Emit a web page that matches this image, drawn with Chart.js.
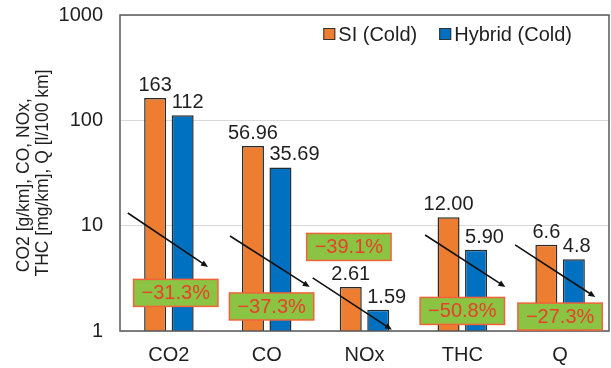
<!DOCTYPE html>
<html><head><meta charset="utf-8">
<script src="https://cdn.jsdelivr.net/npm/chart.js@4.4.1/dist/chart.umd.min.js"></script>
<style>html,body{margin:0;padding:0;background:#fff}</style>
</head><body>
<canvas id="c" width="611" height="368"></canvas>
<script>
// ---- data ----
const categories = ['CO2', 'CO', 'NOx', 'THC', 'Q'];
const seriesNames = ['SI (Cold)', 'Hybrid (Cold)'];
const siValues = [163, 56.96, 2.61, 12.00, 6.6];
const hybridValues = [112, 35.69, 1.59, 5.90, 4.8];
const siLabels = ['163', '56.96', '2.61', '12.00', '6.6'];
const hybridLabels = ['112', '35.69', '1.59', '5.90', '4.8'];
const changeLabels = ['\u221231.3%', '\u221237.3%', '\u221239.1%', '\u221250.8%', '\u221227.3%'];
const yTicks = [1, 10, 100, 1000];
const yTitle = ['CO2 [g/km], CO, NOx,     ', 'THC [mg/km], Q [l/100 km]'];

// ---- annotation placement (category offset, axis value) ----
const changeBoxPos = [
  {dx: 0.07, v: 2.30}, {dx: 0.05, v: 1.71}, {dx: -0.16, v: 6.28}, {dx: 0.0, v: 1.55}, {dx: 0.0, v: 1.37}
];
const arrowPos = [
  {x0: -0.42, v0: 13.2, x1: 0.40, v1: 4.05},
  {x0: -0.375, v0: 7.98, x1: 0.44, v1: 2.62},
  {x0: -0.53, v0: 3.19, x1: 0.28, v1: 1.03},
  {x0: -0.38, v0: 8.16, x1: 0.44, v1: 2.62},
  {x0: -0.46, v0: 6.56, x1: 0.36, v1: 2.10}
];

const FONT = '"Liberation Sans", Arial, sans-serif';
const TXT = '#1f1f1f';
const colors = ['#ED7D31', '#0070C0'];

Chart.defaults.font.family = FONT;
Chart.defaults.color = TXT;

const annot = {
  id: 'annot',
  afterDatasetsDraw(chart) {
    const {ctx, chartArea: a, scales: {x, y}} = chart;
    ctx.save();
    // frame
    ctx.strokeStyle = '#595959';
    ctx.lineWidth = 1.5;
    ctx.strokeRect(a.left, a.top, a.right - a.left, a.bottom - a.top);

    // value labels
    ctx.font = '20px ' + FONT;
    ctx.fillStyle = TXT;
    ctx.textBaseline = 'alphabetic';
    chart.getDatasetMeta(0).data.forEach((bar, i) => {
      ctx.textAlign = 'center';
      ctx.fillText(siLabels[i], bar.x, bar.y - 7);
    });
    chart.getDatasetMeta(1).data.forEach((bar, i) => {
      ctx.textAlign = 'left';
      ctx.fillText(hybridLabels[i], bar.x - bar.width / 2, bar.y - 7);
    });

    const cw = x.getPixelForValue(1) - x.getPixelForValue(0);
    // arrows
    ctx.strokeStyle = '#111';
    ctx.fillStyle = '#111';
    ctx.lineWidth = 1.6;
    arrowPos.forEach((p, i) => {
      const cx = x.getPixelForValue(i);
      const x0 = cx + p.x0 * cw, y0 = y.getPixelForValue(p.v0);
      const x1 = cx + p.x1 * cw, y1 = y.getPixelForValue(p.v1);
      const ang = Math.atan2(y1 - y0, x1 - x0);
      const hl = 7, hw = 3;
      ctx.beginPath();
      ctx.moveTo(x0, y0);
      ctx.lineTo(x1 - Math.cos(ang) * hl * 0.6, y1 - Math.sin(ang) * hl * 0.6);
      ctx.stroke();
      ctx.beginPath();
      ctx.moveTo(x1, y1);
      ctx.lineTo(x1 - Math.cos(ang) * hl - Math.sin(ang) * hw, y1 - Math.sin(ang) * hl + Math.cos(ang) * hw);
      ctx.lineTo(x1 - Math.cos(ang) * hl + Math.sin(ang) * hw, y1 - Math.sin(ang) * hl - Math.cos(ang) * hw);
      ctx.closePath();
      ctx.fill();
    });

    // change boxes
    ctx.font = '20px ' + FONT;
    ctx.textAlign = 'center';
    ctx.textBaseline = 'middle';
    changeBoxPos.forEach((p, i) => {
      const cx = x.getPixelForValue(i) + p.dx * cw;
      const cy = y.getPixelForValue(p.v);
      const w = ctx.measureText(changeLabels[i]).width + 16;
      const h = 27;
      ctx.fillStyle = '#8BC442';
      ctx.fillRect(cx - w / 2, cy - h / 2, w, h);
      ctx.strokeStyle = '#F2633A';
      ctx.lineWidth = 1.5;
      ctx.strokeRect(cx - w / 2, cy - h / 2, w, h);
      ctx.fillStyle = '#E8402C';
      ctx.fillText(changeLabels[i], cx, cy + 1);
    });

    // legend (inside plot, top right)
    ctx.font = '20px ' + FONT;
    ctx.textAlign = 'left';
    ctx.textBaseline = 'middle';
    const ly = a.top + 19;
    let rx = a.right - 37;
    for (let k = seriesNames.length - 1; k >= 0; k--) {
      const tw = ctx.measureText(seriesNames[k]).width;
      const tx = rx - tw;
      const bx = tx - 3 - 12;
      ctx.fillStyle = colors[k];
      ctx.fillRect(bx, ly - 6, 12, 12);
      ctx.strokeStyle = '#333';
      ctx.lineWidth = 1;
      ctx.strokeRect(bx + 0.5, ly - 5.5, 11, 11);
      ctx.fillStyle = TXT;
      ctx.fillText(seriesNames[k], tx, ly + 1);
      rx = bx - 22;
    }
    ctx.restore();
  }
};

new Chart(document.getElementById('c'), {
  type: 'bar',
  data: {
    labels: categories,
    datasets: [
      {label: seriesNames[0], data: siValues, backgroundColor: colors[0], borderColor: '#2a2a2a', borderWidth: 1.5,
       categoryPercentage: 0.5624, barPercentage: 0.8},
      {label: seriesNames[1], data: hybridValues, backgroundColor: colors[1], borderColor: '#2a2a2a', borderWidth: 1.5,
       categoryPercentage: 0.5624, barPercentage: 0.8}
    ]
  },
  options: {
    responsive: false,
    animation: false,
    devicePixelRatio: 1,
    layout: {padding: {top: 15, right: 2, bottom: 1, left: 0}},
    plugins: {legend: {display: false}, tooltip: {enabled: false}},
    scales: {
      x: {
        type: 'category',
        offset: true,
        grid: {display: false, drawTicks: false},
        border: {display: false},
        ticks: {font: {size: 20}, color: TXT, padding: 12, maxRotation: 0},
        afterFit: (s) => { s.height = 36; s.paddingLeft = 0; s.paddingRight = 0; s.paddingTop = 0; s.paddingBottom = 0; }
      },
      y: {
        type: 'logarithmic',
        min: 1, max: 1000,
        afterBuildTicks: (s) => { s.ticks = yTicks.map(v => ({value: v})); },
        afterFit: (s) => { s.width = 120; s.paddingTop = 0; s.paddingBottom = 0; },
        grid: {color: '#d9d9d9', lineWidth: 1, drawTicks: false},
        border: {display: false},
        ticks: {font: {size: 20}, color: TXT, padding: 17, callback: (v) => String(v)},
        title: {display: true, text: yTitle, font: {size: 17.5, lineHeight: 1.12}, color: TXT, padding: {top: 14, bottom: 0}}
      }
    }
  },
  plugins: [annot]
});
</script>
</body></html>
